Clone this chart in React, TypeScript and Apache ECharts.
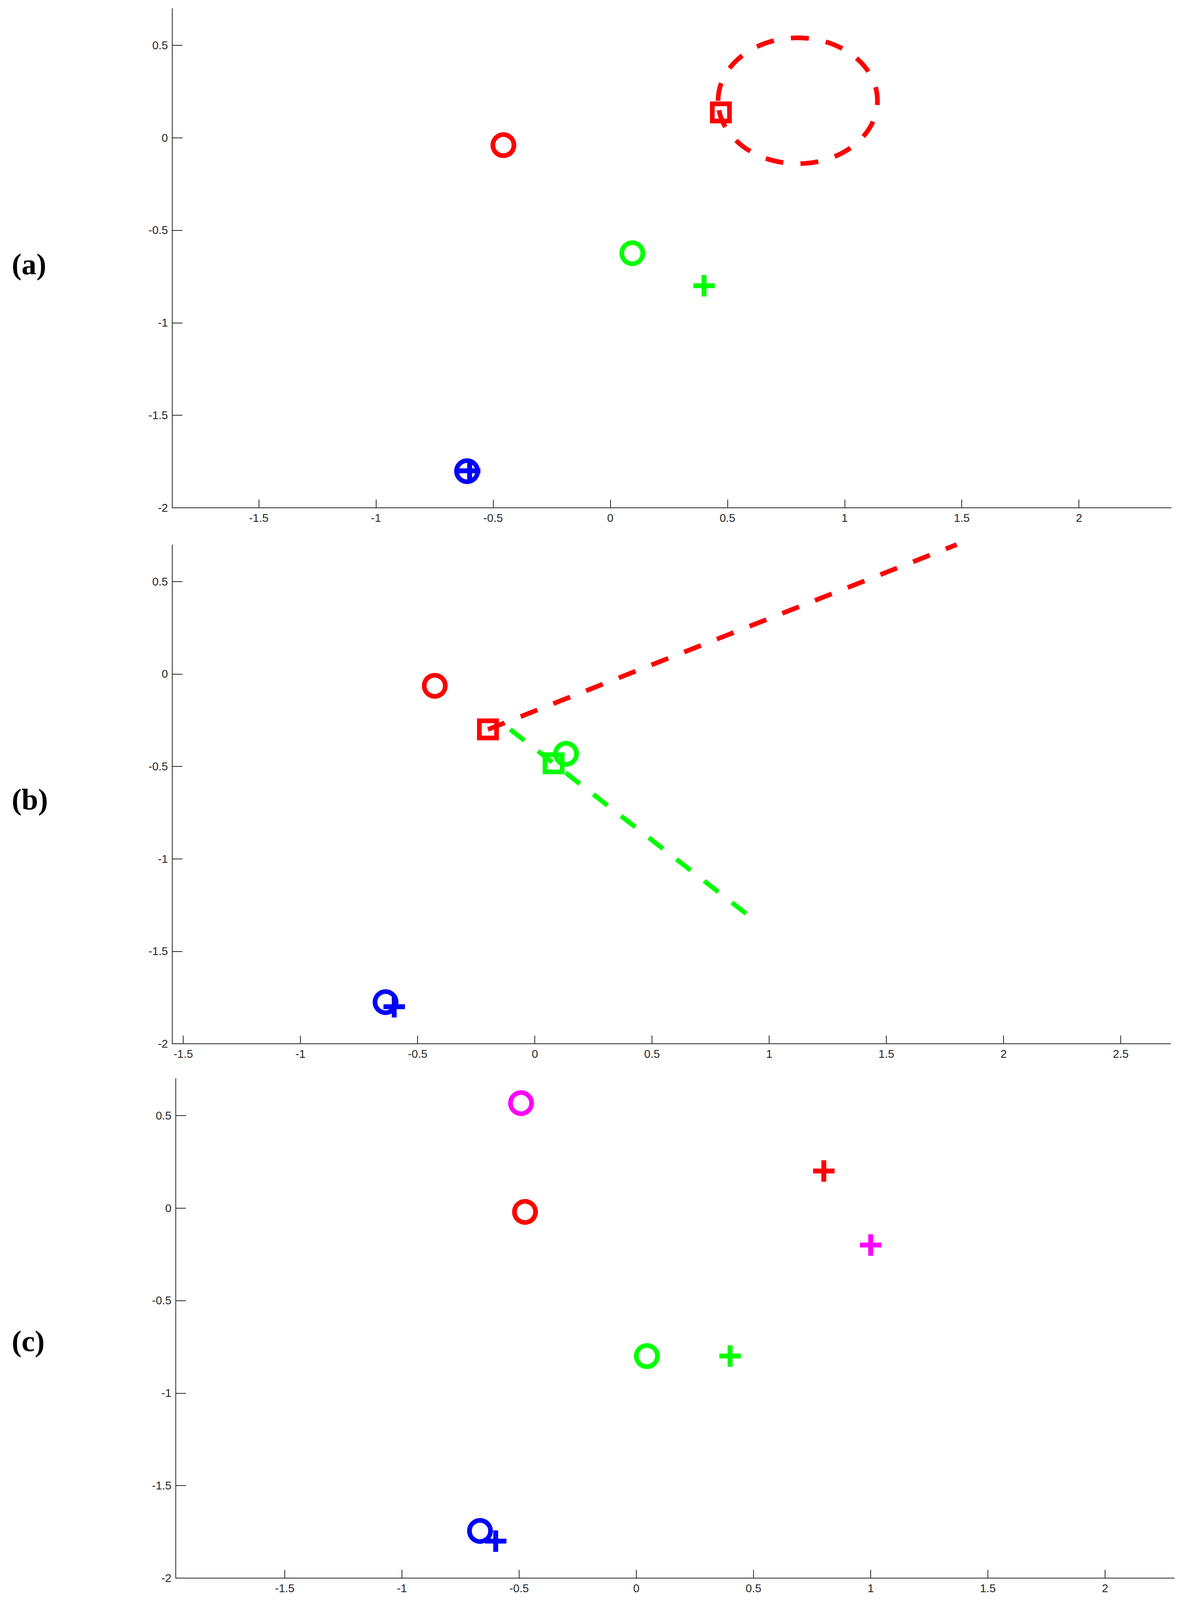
import React, { useEffect, useRef } from "react";
import * as echarts from "echarts";

// ---------- axis ranges & ticks ----------
const A_XRANGE = [-1.869, 2.393];
const B_XRANGE = [-1.547, 2.713];
const C_XRANGE = [-1.965, 2.295];
const A_YRANGE = [-2, 0.698];
const B_YRANGE = [-2, 0.698];
const C_YRANGE = [-2, 0.7];

const A_XTICKS = [-1.5, -1, -0.5, 0, 0.5, 1, 1.5, 2];
const B_XTICKS = [-1.5, -1, -0.5, 0, 0.5, 1, 1.5, 2, 2.5];
const C_XTICKS = [-1.5, -1, -0.5, 0, 0.5, 1, 1.5, 2];
const Y_TICKS = [-2, -1.5, -1, -0.5, 0, 0.5];

const PANEL_LABELS = ["(a)", "(b)", "(c)"];

// ---------- panel (a) ----------
const A_RED_O = [[-0.456, -0.04]];
const A_RED_SQ = [[0.472, 0.137]];
const A_RED_RING = [[0.8, 0.2, 0.34]]; // centre x, centre y, radius
const A_GREEN_O = [[0.094, -0.624]];
const A_GREEN_PLUS = [[0.4, -0.8]];
const A_BLUE_O = [[-0.611, -1.802]];
const A_BLUE_PLUS = [[-0.6, -1.8]];

// ---------- panel (b) ----------
const B_RED_O = [[-0.427, -0.064]];
const B_RED_SQ = [[-0.2, -0.3]];
const B_RED_LINE = [[-0.2, -0.3], [1.8, 0.7]];
const B_GREEN_O = [[0.133, -0.432]];
const B_GREEN_SQ = [[0.08, -0.483]];
const B_GREEN_LINE = [[-0.105, -0.3], [0.905, -1.3]];
const B_BLUE_O = [[-0.637, -1.775]];
const B_BLUE_PLUS = [[-0.6, -1.8]];

// ---------- panel (c) ----------
const C_MAGENTA_O = [[-0.492, 0.567]];
const C_MAGENTA_PLUS = [[1.0, -0.2]];
const C_RED_O = [[-0.475, -0.021]];
const C_RED_PLUS = [[0.8, 0.2]];
const C_GREEN_O = [[0.045, -0.8]];
const C_GREEN_PLUS = [[0.4, -0.8]];
const C_BLUE_O = [[-0.667, -1.745]];
const C_BLUE_PLUS = [[-0.6, -1.8]];

// ---------- styles ----------
const RED = "#ff0000";
const GREEN = "#00ff00";
const BLUE = "#0000ff";
const MAGENTA = "#ff00ff";
const AXIS_COLOR = "#262626";
const STROKE = 13;
const DASH = [46, 44];
const PLUS_PATH = "path://M22,0h13v22h22v13h-22v22h-13v-22h-22v-13h22z";

const REF_W = 3049;
const REF_H = 5190;

const circleSeries = (data: number[][], color: string, idx: number) => ({
  type: "scatter",
  xAxisIndex: idx,
  yAxisIndex: idx,
  data,
  symbol: "circle",
  symbolSize: 54,
  silent: true,
  itemStyle: { color: "rgba(0,0,0,0)", borderColor: color, borderWidth: STROKE - 1, opacity: 1 },
  z: 5,
});

const squareSeries = (data: number[][], color: string, idx: number) => ({
  type: "scatter",
  xAxisIndex: idx,
  yAxisIndex: idx,
  data,
  symbol: "rect",
  symbolSize: 44,
  silent: true,
  itemStyle: { color: "rgba(0,0,0,0)", borderColor: color, borderWidth: STROKE - 1, opacity: 1 },
  z: 5,
});

const plusSeries = (data: number[][], color: string, idx: number) => ({
  type: "scatter",
  xAxisIndex: idx,
  yAxisIndex: idx,
  data,
  symbol: PLUS_PATH,
  symbolSize: 55,
  silent: true,
  itemStyle: { color, opacity: 1 },
  z: 6,
});

const dashedLine = (data: number[][], color: string, idx: number) => ({
  type: "line",
  xAxisIndex: idx,
  yAxisIndex: idx,
  data,
  showSymbol: false,
  symbol: "none",
  silent: true,
  lineStyle: { color, width: STROKE - 1, type: DASH, cap: "butt" },
  z: 4,
});

const dashedRing = (data: number[][], color: string, idx: number) => ({
  type: "custom",
  xAxisIndex: idx,
  yAxisIndex: idx,
  data,
  silent: true,
  z: 4,
  renderItem: (_params: any, api: any) => {
    const c = api.coord([api.value(0), api.value(1)]);
    const rx = api.size([api.value(2), 0])[0];
    const ry = api.size([0, api.value(2)])[1];
    return {
      type: "ellipse",
      shape: { cx: c[0], cy: c[1], rx, ry },
      style: { fill: "none", stroke: color, lineWidth: STROKE - 1, lineDash: DASH },
    };
  },
});

const fontFamily = '"Liberation Sans", Arial, Helvetica, sans-serif';

const makeXAxis = (idx: number, range: number[], ticks: number[], k: number) => ({
  type: "value",
  gridIndex: idx,
  min: range[0],
  max: range[1],
  axisLine: { show: true, onZero: false, lineStyle: { color: AXIS_COLOR, width: 2 } },
  axisTick: {
    show: true,
    inside: true,
    length: Math.round(26 * k),
    customValues: ticks,
    lineStyle: { color: AXIS_COLOR, width: 2 },
  },
  axisLabel: {
    show: true,
    customValues: ticks,
    margin: Math.round(14 * k),
    fontSize: 29,
    fontFamily,
    color: AXIS_COLOR,
    formatter: (v: number) => String(v),
  },
  splitLine: { show: false },
});

const makeYAxis = (idx: number, range: number[], ticks: number[]) => ({
  type: "value",
  gridIndex: idx,
  min: range[0],
  max: range[1],
  axisLine: { show: true, onZero: false, lineStyle: { color: AXIS_COLOR, width: 2 } },
  axisTick: {
    show: true,
    inside: true,
    length: 26,
    customValues: ticks,
    lineStyle: { color: AXIS_COLOR, width: 2 },
  },
  axisLabel: {
    show: true,
    customValues: ticks,
    margin: 11,
    fontSize: 29,
    fontFamily,
    color: AXIS_COLOR,
    formatter: (v: number) => String(v),
  },
  splitLine: { show: false },
});

export default function App() {
  const ref = useRef<HTMLDivElement>(null);
  const k = Math.min(1, (typeof window !== "undefined" ? window.innerHeight : REF_H) / REF_H);

  useEffect(() => {
    if (!ref.current) return;
    document.body.style.margin = "0";
    const chart = echarts.init(ref.current, null, { renderer: "svg" });
    // reference layout in reference pixels (y scaled to the visible page height)
    const Y = (v: number) => Math.round(v * k);
    const grids = [
      { left: 441, top: Y(28), width: 2557, height: Y(1647) - Y(28) },
      { left: 441, top: Y(1767), width: 2556, height: Y(3386) - Y(1767) },
      { left: 450, top: Y(3499), width: 2556, height: Y(5119) - Y(3499) },
    ].map((g) => ({ ...g, containLabel: false, outerBoundsMode: "none" }));
    const labelY = [Y(857), Y(2592), Y(4350)];
    const option: any = {
      animation: false,
      backgroundColor: "#ffffff",
      grid: grids,
      xAxis: [
        makeXAxis(0, A_XRANGE, A_XTICKS, k),
        makeXAxis(1, B_XRANGE, B_XTICKS, k),
        makeXAxis(2, C_XRANGE, C_XTICKS, k),
      ],
      yAxis: [
        makeYAxis(0, A_YRANGE, Y_TICKS),
        makeYAxis(1, B_YRANGE, Y_TICKS),
        makeYAxis(2, C_YRANGE, Y_TICKS),
      ],
      graphic: PANEL_LABELS.map((t, i) => ({
        type: "text",
        x: 30,
        y: labelY[i],
        style: {
          text: t,
          font: 'bold 76px "Liberation Serif", "DejaVu Serif", serif',
          fill: "#000000",
          align: "left",
          verticalAlign: "middle",
          textVerticalAlign: "middle",
        },
      })),
      series: [
        dashedRing(A_RED_RING, RED, 0),
        circleSeries(A_RED_O, RED, 0),
        squareSeries(A_RED_SQ, RED, 0),
        circleSeries(A_GREEN_O, GREEN, 0),
        plusSeries(A_GREEN_PLUS, GREEN, 0),
        circleSeries(A_BLUE_O, BLUE, 0),
        plusSeries(A_BLUE_PLUS, BLUE, 0),
        dashedLine(B_RED_LINE, RED, 1),
        dashedLine(B_GREEN_LINE, GREEN, 1),
        circleSeries(B_RED_O, RED, 1),
        squareSeries(B_RED_SQ, RED, 1),
        circleSeries(B_GREEN_O, GREEN, 1),
        squareSeries(B_GREEN_SQ, GREEN, 1),
        circleSeries(B_BLUE_O, BLUE, 1),
        plusSeries(B_BLUE_PLUS, BLUE, 1),
        circleSeries(C_MAGENTA_O, MAGENTA, 2),
        plusSeries(C_MAGENTA_PLUS, MAGENTA, 2),
        circleSeries(C_RED_O, RED, 2),
        plusSeries(C_RED_PLUS, RED, 2),
        circleSeries(C_GREEN_O, GREEN, 2),
        plusSeries(C_GREEN_PLUS, GREEN, 2),
        circleSeries(C_BLUE_O, BLUE, 2),
        plusSeries(C_BLUE_PLUS, BLUE, 2),
      ],
    };
    chart.setOption(option);
    return () => {
      chart.dispose();
    };
  }, []);

  return (
    <div
      ref={ref}
      style={{ width: REF_W, height: Math.floor(REF_H * k), background: "#fff" }}
    />
  );
}
